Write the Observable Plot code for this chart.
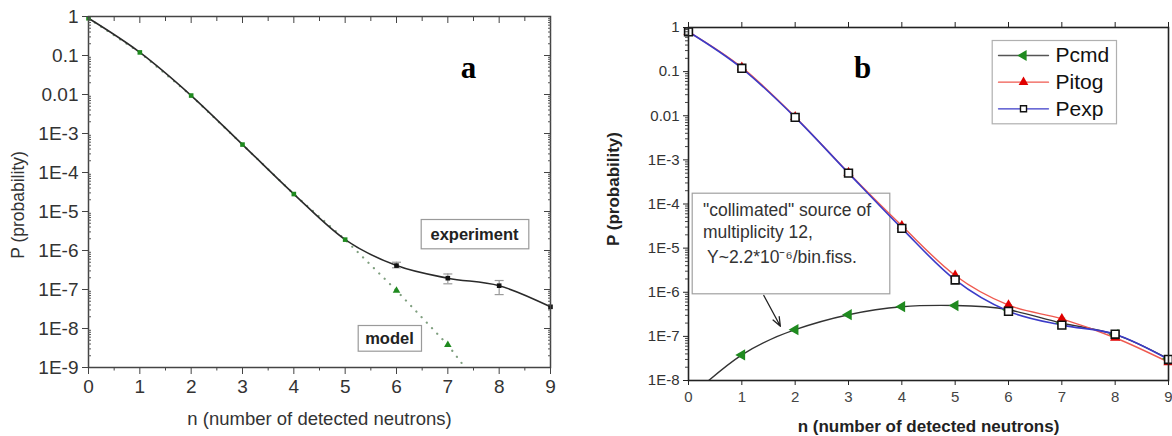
<!DOCTYPE html>
<html><head><meta charset="utf-8">
<script src="https://cdn.jsdelivr.net/npm/d3@7"></script>
<script src="https://cdn.jsdelivr.net/npm/@observablehq/plot@0.6"></script>
<style>
body{margin:0;background:#fff;}
#wrap{position:relative;width:1172px;height:436px;overflow:hidden;background:#fff;}
#a{position:absolute;left:0;top:0;width:590px;height:436px;}
#b{position:absolute;left:590px;top:0;width:582px;height:436px;}
</style></head><body><div id="wrap"><div id="a"></div><div id="b"></div></div>
<script>
// ---------- data ----------
const nValues = [0, 1, 2, 3, 4, 5, 6, 7, 8, 9];
// panel a
const experimentP = [0.9, 0.12, 0.0094, 5.2e-4, 2.8e-5, 1.9e-6, 4.1e-7, 1.95e-7, 1.25e-7, 3.6e-8];
const errN = [6, 7, 8];
const errLow = [3.6e-7, 1.4e-7, 7.4e-8];
const errHigh = [5.0e-7, 2.5e-7, 1.7e-7];
const modelN = [0, 1, 2, 3, 4, 5, 6, 7, 8];
const modelP = [0.9, 0.12, 0.0094, 5.2e-4, 2.8e-5, 1.9e-6, 9.4e-8, 3.8e-9, 7e-11];
// panel b
const Pcmd  = [4e-9, 3.8e-8, 1.42e-7, 3.1e-7, 4.7e-7, 5.0e-7, 4.0e-7, 2.0e-7, 1.1e-7, 3.1e-8];
const Pitog = [0.8, 0.125, 0.0094, 5.1e-4, 3.2e-5, 2.4e-6, 5.1e-7, 2.5e-7, 9.3e-8, 2.6e-8];
const Pexp  = [0.8, 0.119, 0.0092, 5.0e-4, 2.8e-5, 1.9e-6, 3.7e-7, 1.8e-7, 1.12e-7, 3.0e-8];
const seriesNames = ["Pcmd", "Pitog", "Pexp"];
// ticks
const xTicks = [0, 1, 2, 3, 4, 5, 6, 7, 8, 9];
const xHalfTicks = [0.5, 1.5, 2.5, 3.5, 4.5, 5.5, 6.5, 7.5, 8.5];
const yTicks = [1, 0.1, 0.01, 1e-3, 1e-4, 1e-5, 1e-6, 1e-7, 1e-8, 1e-9];
const yLabels = ["1", "0.1", "0.01", "1E-3", "1E-4", "1E-5", "1E-6", "1E-7", "1E-8", "1E-9"];
const xLabel = "n (number of detected neutrons)";
const yLabel = "P (probability)";
const annotB = ["\"collimated\" source of", "multiplicity 12,", "Y~2.2*10\u207B\u2076/bin.fiss."];

// ---------- helpers ----------
const font = "'Liberation Sans', Arial, Helvetica, sans-serif";
const serif = "'Liberation Serif', 'Times New Roman', serif";
const fmtY = d => yLabels[yTicks.indexOf(d)];
const minorLog = (lo, hi) => {
  const out = [];
  for (let k = lo; k < hi; k++) for (let m = 2; m <= 9; m++) out.push(m * Math.pow(10, k));
  return out;
};
const expData = nValues.map((n, i) => ({n, p: experimentP[i]}));
const errData = errN.map((n, i) => ({n, lo: errLow[i], hi: errHigh[i]}));
const modelData = modelN.map((n, i) => ({n, p: modelP[i]}));
const cmdData = nValues.map((n, i) => ({n, p: Pcmd[i]}));
const itogData = nValues.map((n, i) => ({n, p: Pitog[i]}));
const expBData = nValues.map((n, i) => ({n, p: Pexp[i]}));

const hbar = {draw(ctx) { ctx.moveTo(-4.5, 0); ctx.lineTo(4.5, 0); }};
const segShape = {draw(ctx, l) { ctx.moveTo(0, 0); ctx.lineTo(0, -l); }};
const arrowShape = {draw(ctx, l) {
  ctx.moveTo(0, 0); ctx.lineTo(0, -l);
  ctx.moveTo(-3.5, -l + 9); ctx.lineTo(0, -l); ctx.lineTo(3.5, -l + 9);
}};
const one = [0];

// ---------- panel a ----------
const plotA = Plot.plot({
  width: 590, height: 436,
  marginLeft: 88, marginRight: 40, marginTop: 16, marginBottom: 69,
  style: {fontFamily: font, color: "#333", background: "white", overflow: "visible"},
  x: {domain: [0, 9]},
  y: {type: "log", domain: [1e-9, 1]},
  marks: [
    // annotation boxes
    Plot.frame({insetLeft: 332.7, insetRight: 21.7, insetTop: 203, insetBottom: 118.7, fill: "white", stroke: "#9a9a9a", strokeWidth: 1.2}),
    Plot.frame({insetLeft: 269.7, insetRight: 129, insetTop: 309, insetBottom: 16.3, fill: "white", stroke: "#9a9a9a", strokeWidth: 1.2}),
    Plot.text(one, {frameAnchor: "top-left", dx: 386, dy: 218, text: () => "experiment", fontSize: 16.5, fontWeight: "bold", fill: "#222", textAnchor: "middle", lineAnchor: "middle"}),
    Plot.text(one, {frameAnchor: "top-left", dx: 301, dy: 322, text: () => "model", fontSize: 16.5, fontWeight: "bold", fill: "#222", textAnchor: "middle", lineAnchor: "middle"}),
    Plot.text(one, {frameAnchor: "top-left", dx: 380, dy: 52, text: () => "a", fontSize: 31, fontWeight: "bold", fontFamily: serif, fill: "#000", textAnchor: "middle", lineAnchor: "middle"}),
    // model (dotted)
    Plot.line(modelData, {x: "n", y: "p", stroke: "#7f9f7f", strokeWidth: 2.2, strokeDasharray: "0.1 7.5", strokeLinecap: "round", clip: true}),
    // experiment
    Plot.line(expData, {x: "n", y: "p", curve: "monotone-x", stroke: "#2a2a2a", strokeWidth: 1.6}),
    Plot.ruleX(errData, {x: "n", y1: "lo", y2: "hi", stroke: "#9a9a9a", strokeWidth: 1.2}),
    Plot.dot(errData, {x: "n", y: "lo", symbol: hbar, stroke: "#9a9a9a", strokeWidth: 1.2}),
    Plot.dot(errData, {x: "n", y: "hi", symbol: hbar, stroke: "#9a9a9a", strokeWidth: 1.2}),
    Plot.dot(modelData.filter(d => d.n <= 5), {x: "n", y: "p", symbol: "square", fill: "#1f8a1f", r: 2.6}),
    Plot.dot(modelData.filter(d => d.n > 5 && d.n <= 7), {x: "n", y: "p", symbol: "triangle", fill: "#1f8a1f", r: 2.8}),
    Plot.dot(expData.filter(d => d.n >= 6), {x: "n", y: "p", symbol: "square", fill: "#111", r: 2.6}),
    // frame + axes
    Plot.frame({stroke: "#444", strokeWidth: 1.5}),
    Plot.axisX({anchor: "bottom", ticks: xTicks, tickSize: 7, tickPadding: 5, fontSize: 19, tickFormat: d => String(d), label: null, stroke: "#444", fill: "#333"}),
    Plot.axisX({anchor: "bottom", ticks: xHalfTicks, tickSize: 3.5, fill: "none", label: null, stroke: "#444"}),
    Plot.axisX({anchor: "top", ticks: xTicks, tickSize: 6, dy: 6, fill: "none", label: null, stroke: "#444"}),
    Plot.axisX({anchor: "top", ticks: xHalfTicks, tickSize: 4, dy: 4, fill: "none", label: null, stroke: "#444"}),
    Plot.axisY({anchor: "left", ticks: yTicks, tickSize: 6, tickPadding: 4, fontSize: 19, tickFormat: fmtY, label: null, stroke: "#444", fill: "#333"}),
    Plot.axisY({anchor: "left", ticks: minorLog(-9, 0), tickSize: 3, dx: 3, fill: "none", label: null, stroke: "#555"}),
    Plot.axisY({anchor: "right", ticks: yTicks, tickSize: 7, dx: -7, fill: "none", label: null, stroke: "#444"}),
    Plot.axisY({anchor: "right", ticks: minorLog(-9, 0), tickSize: 3, dx: -3, fill: "none", label: null, stroke: "#555"}),
    // axis titles
    Plot.text(one, {frameAnchor: "bottom", dy: 52, text: () => xLabel, fontSize: 18.5, fill: "#333", lineAnchor: "middle"}),
    Plot.text(one, {frameAnchor: "left", dx: -70, dy: 13, rotate: -90, text: () => yLabel, fontSize: 17.5, fill: "#333", textAnchor: "middle", lineAnchor: "middle"})
  ]
});
document.getElementById("a").append(plotA);

// ---------- panel b ----------
const legendRows = [28, 54.7, 81.3];
const legendStyles = [
  {line: "#555", fill: "#1f8a1f", stroke: "none", symbol: "triangle", rotate: -90, r: 4},
  {line: "#ef5a50", fill: "#e00000", stroke: "none", symbol: "triangle", rotate: 0, r: 3.6},
  {line: "#3b3bc8", fill: "white", stroke: "#111", symbol: "square", rotate: 0, r: 3.4}
];
const legendMarks = seriesNames.flatMap((name, i) => {
  const s = legendStyles[i];
  return [
    Plot.vector(one, {frameAnchor: "top-left", dx: 310, dy: legendRows[i], length: 50, rotate: 90, anchor: "start", shape: segShape, stroke: s.line, strokeWidth: 1.3}),
    Plot.dot(one, {frameAnchor: "top-left", dx: 335, dy: legendRows[i], symbol: s.symbol, rotate: s.rotate, r: s.r, fill: s.fill, stroke: s.stroke, strokeWidth: 1.4}),
    Plot.text(one, {frameAnchor: "top-left", dx: 367, dy: legendRows[i], text: () => name, fontSize: 21, fill: "#111", textAnchor: "start", lineAnchor: "middle"})
  ];
});

const plotB = Plot.plot({
  width: 582, height: 436,
  marginLeft: 98, marginRight: 4, marginTop: 27, marginBottom: 56,
  style: {fontFamily: font, color: "#222", background: "white", overflow: "visible"},
  x: {domain: [0, 9]},
  y: {type: "log", domain: [1e-8, 1]},
  marks: [
    // annotation box + text
    Plot.frame({insetLeft: 3.7, insetRight: 278.7, insetTop: 165.7, insetBottom: 86.7, fill: "white", stroke: "#a0a0a0", strokeWidth: 1.2}),
    Plot.text(one, {frameAnchor: "top-left", dx: 14.5, dy: 183, text: () => annotB[0], fontSize: 17.5, fill: "#333", textAnchor: "start", lineAnchor: "middle"}),
    Plot.text(one, {frameAnchor: "top-left", dx: 14.5, dy: 205, text: () => annotB[1], fontSize: 17.5, fill: "#333", textAnchor: "start", lineAnchor: "middle"}),
    Plot.text(one, {frameAnchor: "top-left", dx: 18.5, dy: 230, text: () => annotB[2], fontSize: 17.5, fill: "#333", textAnchor: "start", lineAnchor: "middle"}),
    Plot.vector(one, {frameAnchor: "top-left", dx: 75.3, dy: 268, length: 35, rotate: 151.7, anchor: "start", shape: arrowShape, stroke: "#222", strokeWidth: 1.3}),
    Plot.text(one, {frameAnchor: "top-left", dx: 174, dy: 41, text: () => "b", fontSize: 31, fontWeight: "bold", fontFamily: serif, fill: "#000", textAnchor: "middle", lineAnchor: "middle"}),
    // series
    Plot.line(cmdData, {x: "n", y: "p", curve: "natural", stroke: "#333", strokeWidth: 1.4, clip: true}),
    Plot.line(itogData, {x: "n", y: "p", curve: "monotone-x", stroke: "#ef5a50", strokeWidth: 1.4}),
    Plot.line(expBData, {x: "n", y: "p", curve: "monotone-x", stroke: "#3b3bc8", strokeWidth: 1.6}),
    Plot.dot(cmdData, {x: "n", y: "p", symbol: "triangle", rotate: -90, r: 4.2, fill: "#1f8a1f", clip: true}),
    Plot.dot(itogData, {x: "n", y: "p", symbol: "triangle", r: 3.8, fill: "#e00000"}),
    Plot.dot(expBData, {x: "n", y: "p", symbol: "square", r: 4.4, fill: "white", stroke: "#111", strokeWidth: 1.6}),
    // legend
    Plot.frame({insetLeft: 303.7, insetRight: 52, insetTop: 13, insetBottom: 256.7, fill: "white", stroke: "#b0b0b0", strokeWidth: 1.2}),
    ...legendMarks,
    // frame + axes
    Plot.frame({stroke: "#222", strokeWidth: 1.6}),
    Plot.axisX({anchor: "bottom", ticks: xTicks, tickSize: 5, tickPadding: 6, fontSize: 15, tickFormat: d => String(d), label: null, stroke: "#222", fill: "#444"}),
    Plot.axisX({anchor: "top", ticks: xTicks, tickSize: 6, fill: "none", label: null, stroke: "#222"}),
    Plot.axisY({anchor: "left", ticks: yTicks.slice(0, 9), tickSize: 5, tickPadding: 4, fontSize: 15, tickFormat: fmtY, label: null, stroke: "#222", fill: "#333"}),
    Plot.axisY({anchor: "left", ticks: minorLog(-8, 0), tickSize: 3, fill: "none", label: null, stroke: "#444"}),
    // axis titles
    Plot.text(one, {frameAnchor: "bottom", dy: 46, text: () => xLabel, fontSize: 17, fontWeight: "bold", fill: "#222", lineAnchor: "middle"}),
    Plot.text(one, {frameAnchor: "left", dx: -75, dy: -15, rotate: -90, text: () => yLabel, fontSize: 17, fontWeight: "bold", fill: "#222", textAnchor: "middle", lineAnchor: "middle"})
  ]
});
document.getElementById("b").append(plotB);
</script>
</body></html>
